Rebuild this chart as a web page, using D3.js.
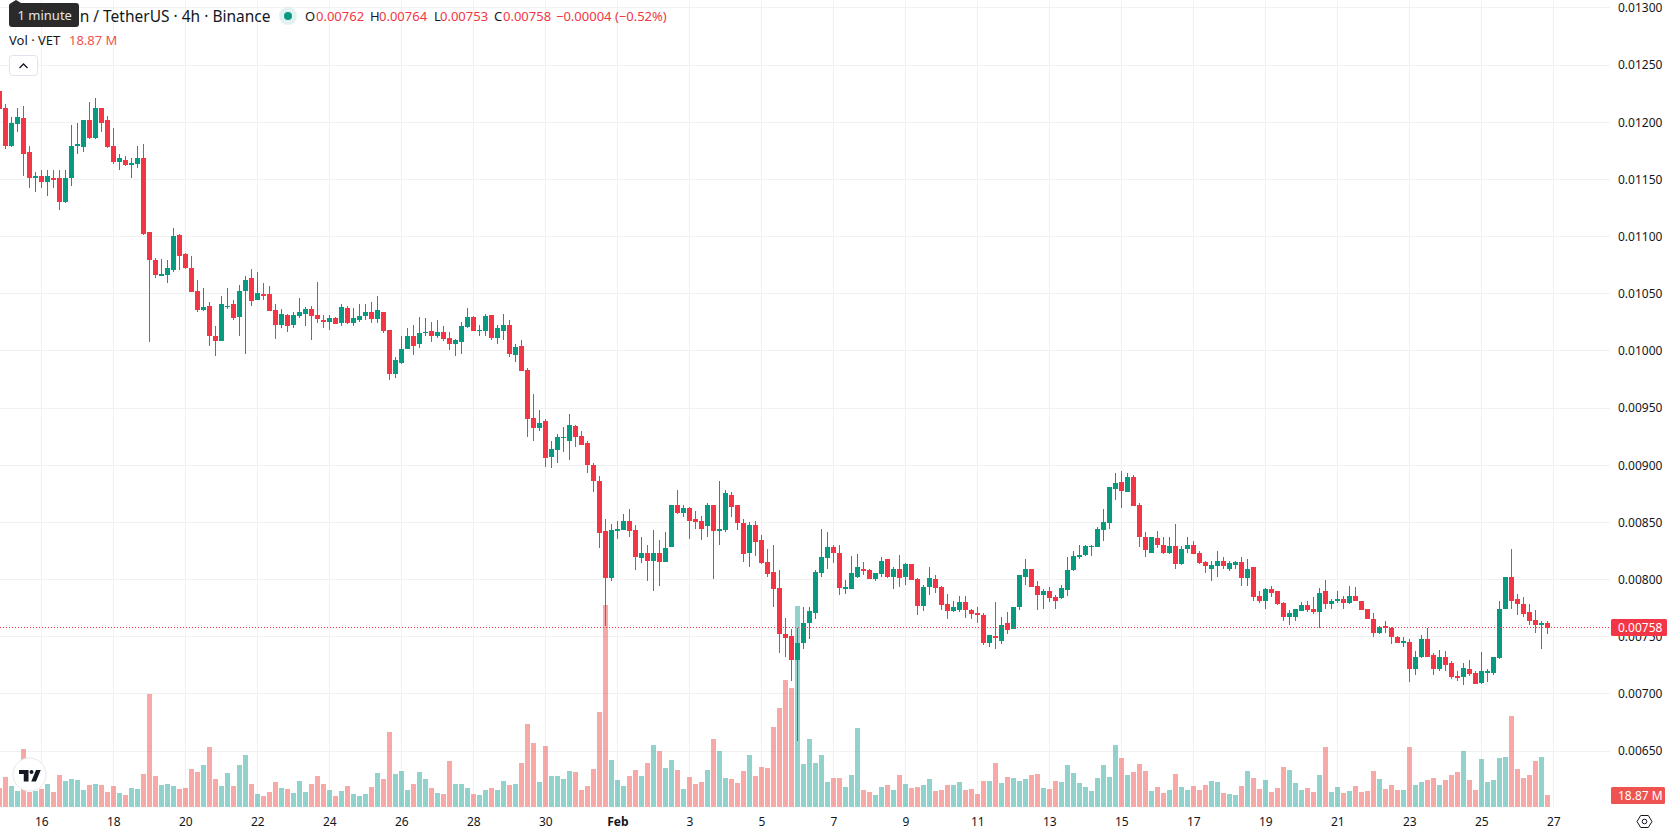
<!DOCTYPE html>
<html>
<head>
<meta charset="utf-8">
<title>VET / USDT 4h</title>
<script src="https://cdnjs.cloudflare.com/ajax/libs/d3/7.8.5/d3.min.js"></script>
<style>
  html, body { margin: 0; padding: 0; background: #fff; overflow: hidden; }
  svg { display: block; font-family: "Noto Sans", sans-serif; }
  .axis text { fill: #131722; font-size: 12px; font-family: "Noto Sans", sans-serif; }
</style>
</head>
<body>
<svg id="chart" width="1678" height="835"></svg>
<script>
// Prices are stored in exchange ticks of 0.00001 USDT, one entry per 4h candle.
const TICK = 0.00001;

const openTicks = [
1228,1213,1180,1199,1204,1174,1152,1153,1148,1152,
1152,1131,1152,1180,1179,1202,1187,1213,1202,1180,
1166,1167,1163,1164,1169,1104,1080,1066,1067,1071,
1102,1085,1073,1053,1036,1040,1013,1009,1039,1041,
1030,1053,1064,1045,1050,1050,1036,1023,1032,1023,
1031,1033,1037,1032,1027,1026,1029,1025,1038,1025,
1027,1031,1034,1028,1034,1019,980,990,1002,1013,
1006,1016,1018,1013,1017,1012,1006,1008,1021,1030,
1018,1018,1032,1012,1018,1023,997,1005,984,942,
933,939,908,914,924,922,935,926,920,901,
887,843,802,843,844,852,844,819,824,817,
824,816,829,866,859,863,853,852,847,866,
843,844,874,866,850,824,848,835,816,807,
793,753,751,730,745,762,771,806,819,829,
824,792,792,803,810,809,801,805,818,803,
810,803,814,801,777,794,801,794,779,773,
774,781,774,771,769,745,751,747,762,757,
776,803,810,795,787,790,785,784,791,809,
820,822,829,829,844,850,880,886,877,890,
866,838,824,837,831,824,830,814,827,831,
824,816,810,812,817,810,813,816,802,811,
786,782,792,790,780,768,768,773,778,775,
772,790,779,782,783,780,786,782,775,766,
754,760,758,750,745,746,722,733,748,734,
722,733,727,716,715,722,719,710,719,719,
732,775,803,783,779,772,765,761,762];

const closeTicks = [
1212,1180,1200,1205,1173,1152,1153,1148,1153,1150,
1131,1152,1180,1181,1202,1187,1213,1200,1179,1166,
1169,1163,1165,1169,1103,1080,1067,1068,1073,1101,
1083,1073,1052,1036,1039,1013,1009,1041,1040,1029,
1053,1062,1044,1051,1048,1035,1023,1033,1022,1032,
1034,1037,1031,1028,1026,1029,1024,1039,1025,1029,
1031,1034,1028,1036,1018,980,992,1002,1013,1005,
1016,1017,1013,1017,1011,1006,1010,1022,1030,1018,
1019,1031,1012,1020,1023,998,1004,983,941,933,
937,907,915,925,925,936,925,918,901,887,
841,802,844,845,852,843,820,824,817,824,
816,828,866,859,863,852,851,845,866,843,
845,876,864,850,823,848,833,815,805,792,
753,749,730,745,762,773,807,820,829,824,
793,794,806,811,808,801,806,817,803,810,
802,814,800,777,794,802,793,778,773,776,
781,774,770,769,745,752,749,761,756,776,
804,810,794,787,790,784,782,793,809,821,
822,830,830,845,851,881,885,878,890,865,
838,826,838,831,824,830,814,827,831,823,
815,812,813,817,812,815,816,802,810,785,
782,792,789,779,768,771,775,778,774,772,
789,779,782,783,780,786,782,774,766,754,
759,758,750,745,747,722,733,748,733,722,
733,726,715,714,723,718,709,720,720,733,
775,803,782,779,770,764,761,762,758];

const highTicks = [
1229,1216,1205,1213,1215,1180,1157,1159,1159,1159,
1159,1159,1198,1200,1202,1218,1222,1213,1206,1195,
1173,1171,1169,1180,1181,1104,1082,1081,1080,1108,
1103,1086,1083,1062,1055,1043,1022,1048,1055,1045,
1058,1066,1072,1069,1060,1057,1041,1037,1033,1034,
1047,1039,1040,1061,1032,1032,1030,1041,1040,1038,
1041,1041,1043,1048,1034,1019,995,1013,1020,1023,
1030,1029,1026,1027,1022,1017,1011,1026,1038,1031,
1023,1033,1032,1023,1033,1027,1006,1010,985,963,
949,941,922,928,934,945,936,930,922,902,
891,853,849,852,858,862,848,838,831,844,
835,842,866,879,866,864,860,856,867,866,
887,879,877,866,853,851,852,839,827,831,
809,767,757,758,776,776,809,845,842,831,
831,800,821,823,816,810,806,820,818,811,
822,815,814,802,796,811,804,795,788,782,
786,786,775,776,771,752,781,768,772,776,
804,818,810,799,792,794,787,796,820,825,
831,831,831,846,862,881,894,895,894,892,
867,842,838,843,838,838,849,830,838,834,
825,817,817,825,820,817,817,820,818,811,
790,793,795,790,781,774,775,781,782,785,
793,800,783,790,786,795,794,782,775,771,
760,764,759,751,750,748,738,752,758,736,
739,738,729,720,727,730,720,737,722,733,
782,803,827,788,785,779,774,764,764];

const lowTicks = [
1211,1177,1179,1192,1153,1143,1139,1143,1136,1143,
1124,1130,1145,1173,1174,1186,1186,1192,1178,1164,
1159,1162,1152,1160,1102,1008,1064,1066,1060,1069,
1071,1072,1052,1034,1035,1005,996,1009,1037,1027,
1013,998,1040,1045,1045,1035,1011,1020,1017,1020,
1029,1022,1010,1025,1020,1019,1024,1022,1024,1022,
1026,1027,1025,1025,1016,975,977,989,1002,997,
1003,1013,1008,1012,1009,1001,996,998,1020,1018,
1013,1013,1010,1006,1010,995,991,983,925,922,
930,899,898,902,912,905,916,918,894,877,
828,760,799,836,844,838,809,815,799,790,
795,816,829,858,855,836,845,835,838,801,
831,842,855,844,816,811,821,814,803,776,
736,733,712,659,740,748,766,803,810,815,
787,788,792,802,804,801,799,803,802,792,
794,796,800,769,773,787,789,774,766,772,
772,767,766,762,743,741,740,744,753,757,
774,796,794,774,775,781,775,783,786,808,
818,821,821,829,834,845,870,863,877,865,
829,820,824,828,823,823,810,813,824,823,
814,806,799,803,810,808,810,795,795,782,
780,775,785,778,764,761,764,773,772,770,
758,775,775,780,775,779,782,774,766,750,
753,754,744,745,741,711,717,732,733,717,
720,720,713,712,708,716,709,709,711,717,
731,775,775,769,768,761,754,740,753];

// Traded volume per candle, in millions of VET.
const volumeM = [
29.9,47.2,33.0,25.2,91.2,23.6,25.2,28.3,36.2,23.6,
50.3,40.9,44.0,42.5,26.7,34.6,36.2,34.6,23.6,33.0,
22.0,18.9,29.9,28.3,51.9,177.7,48.7,34.6,36.2,33.0,
28.3,29.9,59.8,55.0,66.0,94.4,44.0,33.0,53.5,33.0,
66.0,81.8,36.2,20.4,17.3,23.6,39.3,29.9,28.3,22.0,
40.9,23.6,36.2,48.7,36.2,26.7,17.3,25.2,33.0,20.4,
17.3,20.4,31.5,53.5,44.0,117.9,51.9,56.6,26.7,36.2,
55.0,44.0,29.9,22.0,20.4,72.3,36.2,36.2,29.9,20.4,
18.9,26.7,29.9,26.7,40.9,34.6,36.2,69.2,130.5,100.6,
39.3,95.9,48.7,48.7,44.0,56.6,55.0,26.7,33.0,59.8,
149.4,317.6,73.9,42.5,33.0,48.7,58.2,48.7,69.2,97.5,
88.1,61.3,73.9,58.2,28.3,47.2,36.2,39.3,58.2,106.9,
88.1,45.6,44.0,37.7,56.6,81.8,48.7,62.9,61.3,125.8,
155.7,199.7,187.1,316.1,67.6,106.9,69.2,81.8,39.3,45.6,
45.6,31.5,50.3,124.2,26.7,23.6,18.9,31.5,34.6,26.7,
50.3,36.2,29.9,31.5,34.6,44.0,25.2,26.7,34.6,34.6,
39.3,26.7,28.3,20.4,40.9,40.9,69.2,37.7,47.2,45.6,
40.9,44.0,50.3,51.9,29.9,28.3,40.9,39.3,66.0,53.5,
37.7,31.5,25.2,45.6,66.0,47.2,97.5,77.0,50.3,55.0,
67.6,56.6,25.2,31.5,22.0,26.7,51.9,31.5,26.7,33.0,
26.7,34.6,40.9,39.3,22.0,20.4,18.9,33.0,56.6,45.6,
28.3,42.5,23.6,29.9,62.9,58.2,37.7,26.7,29.9,23.6,
50.3,94.4,23.6,31.5,22.0,25.2,33.0,23.6,25.2,56.6,
44.0,28.3,34.6,26.7,26.7,94.4,34.6,39.3,42.5,45.6,
34.6,42.5,50.3,55.0,88.1,42.5,26.7,75.5,39.3,42.5,
77.0,78.6,143.1,59.8,45.6,50.3,72.3,78.6,18.87];

// Time axis: candle index of every labelled day, and the label it carries.
const timeTickIndex = [7,19,31,43,55,67,79,91,103,115,127,139,151,163,175,187,199,211,223,235,247,259];
const timeTickLabels = ["16","18","20","22","24","26","28","30","Feb","3","5","7","9","11","13","15","17","19","21","23","25","27"];
const priceTicks = [0.013,0.0125,0.012,0.0115,0.011,0.0105,0.01,0.0095,0.009,0.0085,0.008,0.0075,0.007,0.0065];

const UP = "#089981", DOWN = "#F23645";
const VOL_UP = "rgba(38,166,154,0.5)", VOL_DOWN = "rgba(239,83,80,0.5)";
const GRID = "#F1F1F2", INK = "#131722";
const PLOT_RIGHT = 1610, VOL_BASE = 807;

const svg = d3.select("#chart");
const candles = d3.range(openTicks.length).map(i => ({
  i, o: openTicks[i]*TICK, h: highTicks[i]*TICK, l: lowTicks[i]*TICK, c: closeTicks[i]*TICK, v: volumeM[i]
}));
const last = candles[candles.length-1];

const x = d3.scaleLinear().domain([0,259]).range([-0.67,1553.33]);
const y = d3.scaleLinear().domain([0.0065,0.0125]).range([751.5,65.5]);
const yVol = d3.scaleLinear().domain([0,317.6]).range([VOL_BASE,605]);
const px = d => Math.floor(x(d));
const row = v => Math.floor(y(v)-0.5);

// Grid
const grid = svg.append("g").attr("shape-rendering","crispEdges");
grid.selectAll("rect.h").data(priceTicks).join("rect").attr("class","h")
  .attr("x",0).attr("width",PLOT_RIGHT).attr("y",row).attr("height",1).attr("fill",GRID);
grid.selectAll("rect.v").data(timeTickIndex).join("rect").attr("class","v")
  .attr("x",px).attr("width",1).attr("y",0).attr("height",VOL_BASE).attr("fill",GRID);

// Volume columns sit behind the candles
svg.append("g").attr("shape-rendering","crispEdges")
  .selectAll("rect").data(candles).join("rect")
  .attr("x",d=>px(d.i)-2).attr("width",5)
  .attr("y",d=>Math.round(yVol(d.v)))
  .attr("height",d=>VOL_BASE-Math.round(yVol(d.v)))
  .attr("fill",d=>d.c<d.o?VOL_DOWN:VOL_UP);

// Candles
const cg = svg.append("g").attr("shape-rendering","crispEdges");
const candle = cg.selectAll("g").data(candles).join("g")
  .attr("fill",d=>d.c<d.o?DOWN:UP);
candle.append("rect")
  .attr("x",d=>px(d.i)).attr("width",1)
  .attr("y",d=>Math.round(y(d.h)))
  .attr("height",d=>Math.max(1,Math.round(y(d.l))-Math.round(y(d.h))));
candle.append("rect")
  .attr("x",d=>px(d.i)-2).attr("width",5)
  .attr("y",d=>Math.round(y(Math.max(d.o,d.c))))
  .attr("height",d=>Math.max(1,Math.round(y(Math.min(d.o,d.c)))-Math.round(y(Math.max(d.o,d.c)))));

// Last price line
svg.append("line")
  .attr("x1",0).attr("x2",PLOT_RIGHT)
  .attr("y1",row(last.c)+0.5).attr("y2",row(last.c)+0.5)
  .attr("stroke",DOWN).attr("stroke-width",1).attr("stroke-dasharray","1 2");

// Axes
const yAxis = d3.axisRight(y).tickValues(priceTicks).tickSize(0).tickPadding(0)
  .tickFormat(d=>d.toFixed(5));
svg.append("g").attr("class","axis").attr("transform","translate(1618,-0.5)").call(yAxis)
  .call(g=>g.select(".domain").remove());

const xAxis = d3.axisBottom(x).tickValues(timeTickIndex).tickSize(0).tickPadding(0)
  .tickFormat((d,i)=>timeTickLabels[i]);
svg.append("g").attr("class","axis").attr("transform","translate(0,817.5)").call(xAxis)
  .call(g=>g.select(".domain").remove())
  .call(g=>g.selectAll("text").filter(d=>d===103).style("font-weight",700));

// Axis value tags
function tag(x0,w,cy,fill,text){
  svg.append("rect").attr("x",x0).attr("y",cy-8.5).attr("width",w).attr("height",17)
    .attr("rx",1.5).attr("fill",fill);
  svg.append("text").attr("x",x0+7).attr("y",cy).attr("dy","0.35em")
    .attr("font-size",12).attr("fill","#fff").text(text);
}
tag(1611,56,row(last.c)+0.5,DOWN,last.c.toFixed(5));
tag(1611,54,795.5,"#EF5350",last.v.toFixed(2)+" M");

// Settings hexagon in the axis corner
const hex = svg.append("g").attr("transform","translate(1644.5,821.5)")
  .attr("fill","none").attr("stroke",INK).attr("stroke-width",1);
hex.append("path").attr("d","M-7.5,0L-3.8,-6L3.8,-6L7.5,0L3.8,6L-3.8,6Z");
hex.append("circle").attr("r",2.3);

// Header: symbol line
const header = svg.append("g");
header.append("text").attr("x",270.5).attr("y",16).attr("dy","0.36em").attr("text-anchor","end")
  .attr("font-size",15.5).attr("fill",INK).text("VeChain / TetherUS · 4h · Binance");
header.append("circle").attr("cx",288).attr("cy",16).attr("r",9).attr("fill","#089981").attr("fill-opacity",0.12);
header.append("circle").attr("cx",288).attr("cy",16).attr("r",4).attr("fill","#089981");

const diff = closeTicks[258]-openTicks[258];
const ohlc = [
  [305,"O",INK],[316,last.o.toFixed(5),DOWN],
  [370,"H",INK],[379,last.h.toFixed(5),DOWN],
  [434,"L",INK],[440,last.l.toFixed(5),DOWN],
  [494,"C",INK],[503,last.c.toFixed(5),DOWN],
  [556,"\u2212"+(Math.abs(diff)*TICK).toFixed(5)+" (\u2212"+(Math.abs(diff)/openTicks[258]*100).toFixed(2)+"%)",DOWN]
];
header.selectAll("text.v").data(ohlc).join("text").attr("class","v")
  .attr("x",d=>d[0]).attr("y",16).attr("dy","0.36em").attr("font-size",13)
  .attr("fill",d=>d[2]).text(d=>d[1]);

header.append("text").attr("x",9).attr("y",40.5).attr("dy","0.36em").attr("font-size",13)
  .attr("fill",INK).text("Vol · VET");
header.append("text").attr("x",69).attr("y",40.5).attr("dy","0.36em").attr("font-size",13)
  .attr("fill","#EF5350").text(last.v.toFixed(2)+" M");

// Collapse button
header.append("rect").attr("x",9.5).attr("y",55.5).attr("width",28).attr("height",20).attr("rx",3)
  .attr("fill","#fff").attr("stroke","#E0E3EB");
header.append("path").attr("d","M19.5,68L23.5,64L27.5,68").attr("fill","none").attr("stroke",INK).attr("stroke-width",1.3);

// Hover tooltip over the symbol name
const tip = svg.append("g");
tip.append("path").attr("d","M11,3L16,0L21,3Z").attr("fill","#2A2A2A");
tip.append("rect").attr("x",9).attr("y",3).attr("width",70).attr("height",24).attr("rx",3).attr("fill","#2A2A2A");
tip.append("text").attr("x",17.5).attr("y",15.5).attr("dy","0.36em").attr("font-size",13)
  .attr("fill","#E6E6E6").text("1 minute");

// Logo badge
const badge = svg.append("g").attr("transform","translate(29.5,774.5)");
badge.append("circle").attr("r",16.5).attr("fill","#fff").attr("stroke","#E8E8E8").attr("stroke-width",1);
badge.append("g").attr("transform","translate(-10.5,-4.5) scale(0.68)")
  .append("path").attr("fill","#131722")
  .attr("d","M14 0H0v6h7v11h7V0zM25 0h7l-7 17h-7z");
badge.append("circle").attr("cx",2).attr("cy",-2.5).attr("r",2).attr("fill","#131722");
</script>
</body>
</html>
